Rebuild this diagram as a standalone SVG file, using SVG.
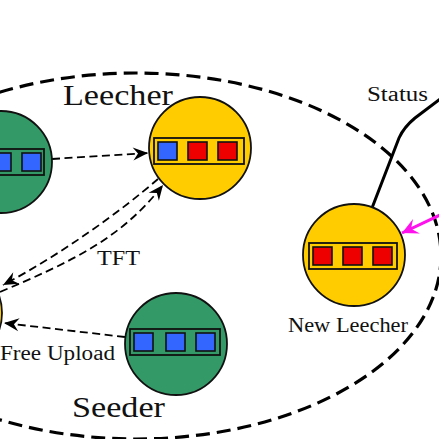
<svg xmlns="http://www.w3.org/2000/svg" width="439" height="439" viewBox="0 0 439 439">
<style>
.node{stroke:#111;stroke-width:1.8}
.green{fill:#339966}
.yellow{fill:#ffcc00}
.box{fill:none;stroke:#111;stroke-width:1.8}
.sq{stroke:#111;stroke-width:1.6}
.blue{fill:#3366ff}
.red{fill:#ee0000}
.dash{fill:none;stroke:#000;stroke-width:1.8;stroke-dasharray:8 4.5}
.lbl{font-family:"Liberation Serif",serif;fill:#111}
</style>
<defs>
<marker id="ah" viewBox="-16 -8 17 16" refX="0" refY="0" markerWidth="17" markerHeight="16" markerUnits="userSpaceOnUse" orient="auto">
<path d="M0,0 L-15,-6.5 L-10,0 L-15,6.5 Z" fill="#000"/>
</marker>
<marker id="ahm" viewBox="-18 -9 19 18" refX="0" refY="0" markerWidth="19" markerHeight="18" markerUnits="userSpaceOnUse" orient="auto">
<path d="M0,0 L-16,-8 L-10,0 L-16,8 Z" fill="#ff11ee"/>
</marker>
</defs>
<ellipse cx="136" cy="256" rx="305" ry="183" fill="none" stroke="#000" stroke-width="3.2" stroke-dasharray="14 7"/>
<g id="connectors">
<path class="dash" d="M52,159 L148,153" marker-end="url(#ah)"/>
<path class="dash" d="M158,179 C120,212 60,255 3,285" marker-end="url(#ah)"/>
<path class="dash" d="M0,292 C70,262 120,240 163,185" marker-end="url(#ah)"/>
<path class="dash" d="M125,337 L4,323" marker-end="url(#ah)"/>
<path d="M372,208 L399,138 Q404,127 415,118 L440,99" fill="none" stroke="#000" stroke-width="3"/>
<path d="M440,215 L402,233" fill="none" stroke="#ff11ee" stroke-width="3" marker-end="url(#ahm)"/>
</g>
<g id="seeder-left">
<circle class="node green" cx="1" cy="162" r="51"/>
<rect class="box" x="-46" y="149" width="90" height="26"/>
<rect class="sq blue" x="-8" y="153" width="19" height="18"/>
<rect class="sq blue" x="22" y="153" width="19" height="18"/>
</g>
<g id="leecher">
<circle class="node yellow" cx="200" cy="148" r="51"/>
<rect class="box" x="154" y="138" width="90" height="26"/>
<rect class="sq blue" x="158" y="142" width="19" height="18"/>
<rect class="sq red" x="188" y="142" width="19" height="18"/>
<rect class="sq red" x="218" y="142" width="19" height="18"/>
</g>
<g id="left-leecher">
<circle class="node yellow" cx="-49" cy="313" r="51"/>
</g>
<g id="seeder">
<circle class="node green" cx="176" cy="344" r="51"/>
<rect class="box" x="130" y="329" width="90" height="26"/>
<rect class="sq blue" x="134" y="333" width="19" height="18"/>
<rect class="sq blue" x="166" y="333" width="19" height="18"/>
<rect class="sq blue" x="196" y="333" width="19" height="18"/>
</g>
<g id="new-leecher">
<circle class="node yellow" cx="354" cy="255" r="51"/>
<rect class="box" x="309" y="243" width="88" height="26"/>
<rect class="sq red" x="313" y="247" width="19" height="18"/>
<rect class="sq red" x="343" y="247" width="19" height="18"/>
<rect class="sq red" x="373" y="247" width="19" height="18"/>
</g>
<g id="labels">
<text class="lbl" x="63" y="105" font-size="29" textLength="110" lengthAdjust="spacingAndGlyphs">Leecher</text>
<text class="lbl" x="72" y="417" font-size="30" textLength="93" lengthAdjust="spacingAndGlyphs">Seeder</text>
<text class="lbl" x="367" y="101" font-size="20" textLength="61" lengthAdjust="spacingAndGlyphs">Status</text>
<text class="lbl" x="97" y="265" font-size="20" textLength="43" lengthAdjust="spacingAndGlyphs">TFT</text>
<text class="lbl" x="0" y="360" font-size="20" textLength="115" lengthAdjust="spacingAndGlyphs">Free Upload</text>
<text class="lbl" x="288" y="332" font-size="20" textLength="120" lengthAdjust="spacingAndGlyphs">New Leecher</text>
</g>
</svg>
